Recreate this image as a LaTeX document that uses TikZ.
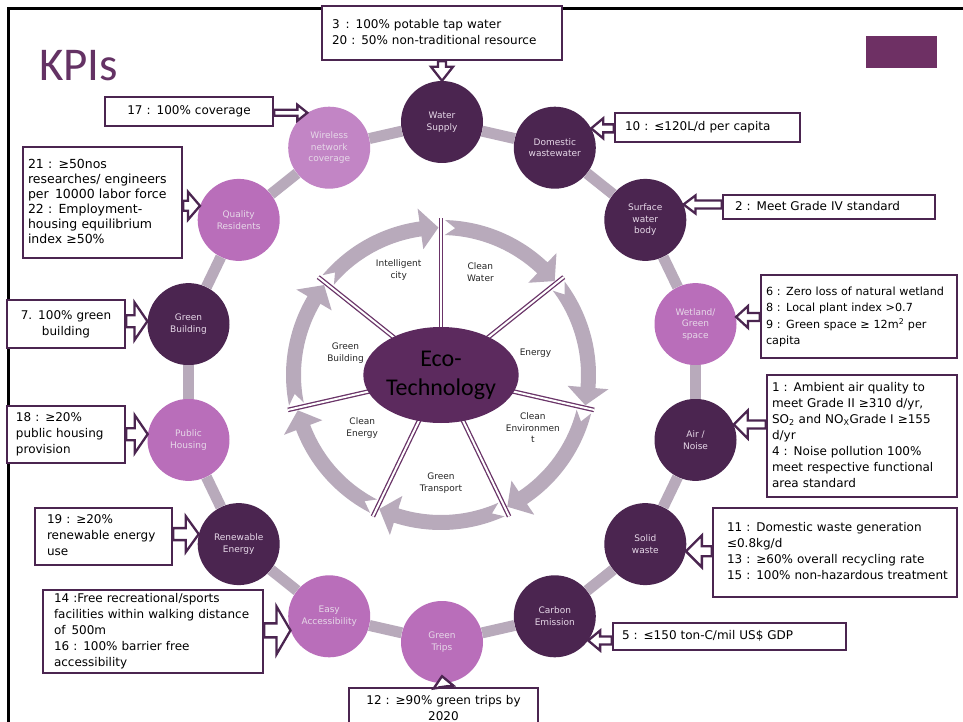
\documentclass[tikz,border=0pt]{standalone}
\usepackage{fontspec}
\setmainfont{DejaVu Sans}
\newfontfamily\calfont{Carlito}
\usetikzlibrary{calc,shapes.geometric}

\definecolor{kdark}{HTML}{4B2550}
\definecolor{klight}{HTML}{B96EBA}
\definecolor{kwire}{HTML}{C285C5}
\definecolor{kgrey}{HTML}{B8AABB}
\definecolor{ktitle}{HTML}{643264}
\definecolor{ktag}{HTML}{6E3064}
\definecolor{keco}{HTML}{5C2A5E}
\definecolor{kspoke}{HTML}{6A3468}
\definecolor{ctext}{HTML}{E6D8E8}

\newcommand\kbtext[1]{\begin{tabular}{@{}l@{}}#1\end{tabular}}
\newcommand\kctext[1]{\begin{tabular}{@{}c@{}}#1\end{tabular}}

% hollow block arrow: #1 start, #2 end, #3 shaft half width, #4 head half width, #5 head length
\newcommand\blockarr[5]{%
  \path let \p1=#1, \p2=#2 in
    \pgfextra{\pgfmathsetmacro\kang{atan2(\y2-\y1,\x2-\x1)}%
      \pgfmathsetmacro\klen{veclen(\x2-\x1,\y2-\y1)}%
      \xdef\kax{\x1}\xdef\kay{\y1}\xdef\kang{\kang}\xdef\klen{\klen}};
  \begin{scope}[shift={(\kax,\kay)}, rotate=\kang]
    \draw[arrowsty] (0pt,-#3pt) -- ({\klen pt-#5pt},-#3pt) -- ({\klen pt-#5pt},-#4pt)
      -- (\klen pt,0pt) -- ({\klen pt-#5pt},#4pt) -- ({\klen pt-#5pt},#3pt) -- (0pt,#3pt) -- cycle;
  \end{scope}}

\begin{document}
\begin{tikzpicture}[x=1pt,y=-1pt,
  dcirc/.style={circle, fill=kdark, minimum size=82pt, inner sep=0pt, text=ctext,
    align=center, font=\fontsize{9}{11.5}\selectfont},
  lcirc/.style={dcirc, fill=klight},
  kbox/.style={draw=kdark, line width=2.5pt, fill=white, inner ysep=0pt,
    align=left, font=\fontsize{12}{16}\selectfont},
  ringconn/.style={draw=kgrey, line width=11pt},
  arrowsty/.style={draw=kdark, fill=white, line width=2.3pt, line join=miter},
  spoke/.style={draw=kspoke, line width=1.3pt, double=white, double distance=2pt},
  wlab/.style={inner sep=0pt, align=center, text=black!85, font=\fontsize{9}{11.5}\selectfont},
  ecost/.style={ellipse, fill=keco, minimum width=114pt, minimum height=96pt, inner sep=0pt,
    align=center, text=black, font=\calfont\fontsize{24}{29}\selectfont}
]
\useasboundingbox (0,0) rectangle (963,722);
\fill[white] (0,0) rectangle (963,722);

% frame
\draw[line width=3pt] (8.5,722) -- (8.5,8.5) -- (963,8.5);

% title and tag
\node[anchor=base west, text=ktitle, font=\calfont\fontsize{47}{50}\selectfont, inner sep=0pt] (title) at (39,81) {KPIs};
\node[fill=ktag, minimum width=71pt, minimum height=32pt, inner sep=0pt] (tag) at (901.5,52) {};

% ---------- inner wheel ----------
\coordinate (wc) at (441,375);
\begin{scope}[shift={(wc)}, x=1pt, y=1pt]
  \foreach \kk in {0,...,6}{
    \pgfmathsetmacro\segA{90-\kk*360/7-1.5}
    \pgfmathsetmacro\segB{90-(\kk+1)*360/7+1}
    \pgfmathsetmacro\segH{\segB+7}
    \pgfmathsetmacro\segN{\segA-4}
    \fill[kgrey] (\segA:155) arc[start angle=\segA, end angle=\segH, radius=155]
      -- (\segH:168) -- (\segB:147.5) -- (\segH:127) -- (\segH:140)
      arc[start angle=\segH, end angle=\segA, radius=140] -- (\segN:147.5) -- cycle;
  }
  \foreach \kk in {0,...,6}{
    \pgfmathsetmacro\spa{90-\kk*360/7}
    \draw[spoke] (\spa:45) -- (\spa:157);
  }
  \node[wlab] (w1) at (69:110) {Clean\\Water};
  \node[wlab] (w2) at (13:97) {Energy};
  \node[wlab] (w3) at (-30:106) {Clean\\Environmen\\t};
  \node[wlab] (w4) at (-90:108) {Green\\Transport};
  \node[wlab] (w5) at (-146:95) {Clean\\Energy};
  \node[wlab] (w6) at (167:98) {Green\\Building};
  \node[wlab] (w7) at (112:113) {Intelligent\\city};
\end{scope}
\node[ecost] (eco) at (wc) {Eco-\\Technology};

% ---------- outer ring of circles ----------
\node[dcirc] (water) at (442,122) {Water\\Supply};
\node[dcirc] (dom) at (554.8,147.7) {Domestic\\wastewater};
\node[dcirc] (surf) at (645.3,219.9) {Surface\\water\\body};
\node[lcirc] (wet) at (695.5,324.1) {Wetland/\\Green\\space};
\node[dcirc] (air) at (695.5,439.9) {Air /\\Noise};
\node[dcirc] (solid) at (645.3,544.1) {Solid\\waste};
\node[dcirc] (carbon) at (554.8,616.3) {Carbon\\Emission};
\node[lcirc] (trips) at (442,642) {Green\\Trips};
\node[lcirc] (easy) at (329.2,616.3) {Easy\\Accessibility};
\node[dcirc] (renew) at (238.7,544.1) {Renewable\\Energy};
\node[lcirc] (pubh) at (188.5,439.9) {Public\\Housing};
\node[dcirc] (greenb) at (188.5,324.1) {Green\\Building};
\node[lcirc] (quality) at (238.7,219.9) {Quality\\Residents};
\node[lcirc, fill=kwire] (wireless) at (329.2,147.7) {Wireless\\network\\coverage};

\foreach \ca/\cb in {water/dom, dom/surf, surf/wet, wet/air, air/solid, solid/carbon,
  carbon/trips, trips/easy, easy/renew, renew/pubh, pubh/greenb, greenb/quality,
  quality/wireless, wireless/water}
  \draw[ringconn] (\ca) -- (\cb);

% ---------- KPI boxes ----------
\node[kbox, text width=220pt, inner xsep=10pt, minimum height=54pt] (boxA) at (442,33)
  {\kbtext{3\enspace: 100\% potable tap water\\20 : 50\% non-traditional resource}};
\node[kbox, text width=148pt, inner xsep=10pt, minimum height=29pt, align=center] (boxB) at (189,111.5)
  {\kctext{17 : 100\% coverage}};
\node[kbox, text width=165pt, inner xsep=10pt, minimum height=29pt] (boxC) at (707.5,127.5)
  {\kbtext{10 :\enspace ≤120L/d per capita}};
\node[kbox, text width=188pt, inner xsep=12pt, minimum height=24pt] (boxD) at (829,207)
  {\kbtext{2 : Meet Grade IV standard}};
\node[kbox, text width=186pt, inner xsep=5pt, minimum height=83pt, font=\fontsize{11.2}{16.5}\selectfont] (boxE) at (859,316.5)
  {\kbtext{6 : Zero loss of natural wetland\\8 :\enspace Local plant index >0.7\\9 :\enspace Green space ≥ 12m\textsuperscript{2} per\\capita}};
\node[kbox, text width=180pt, inner xsep=5pt, minimum height=122pt] (boxF) at (862,436)
  {\kbtext{1 :\enspace Ambient air quality to\\meet Grade II ≥310 d/yr,\\SO\textsubscript{2} and NO\textsubscript{X}Grade I ≥155\\d/yr\\4 :\enspace Noise pollution 100\%\\meet respective functional\\area standard}};
\node[kbox, text width=216pt, inner xsep=14pt, minimum height=89pt] (boxG) at (835,552.5)
  {\kbtext{11 :\enspace Domestic waste generation\\≤0.8kg/d\\13 : ≥60\% overall recycling rate\\15 : 100\% non-hazardous treatment}};
\node[kbox, text width=215pt, inner xsep=9pt, minimum height=27pt] (boxH) at (729.5,636.5)
  {\kbtext{5 : ≤150 ton-C/mil US\$ GDP}};
\node[kbox, text width=171pt, inner xsep=9pt, minimum height=42pt, align=center] (boxI) at (443.5,709)
  {\kctext{12 :\enspace ≥90\% green trips by\\2020}};
\node[kbox, text width=198pt, inner xsep=11pt, minimum height=83pt] (boxJ) at (153,631.5)
  {\kbtext{14 :Free recreational/sports\\facilities within walking distance\\of\enspace 500m\\16 : 100\% barrier free\\accessibility}};
\node[kbox, text width=113pt, inner xsep=12pt, minimum height=57pt] (boxK) at (103.5,536.5)
  {\kbtext{19 : ≥20\%\\renewable energy\\use}};
\node[kbox, text width=100pt, inner xsep=9pt, minimum height=57pt] (boxL) at (66,434.5)
  {\kbtext{18 : ≥20\%\\public housing\\provision}};
\node[kbox, text width=100pt, inner xsep=9pt, minimum height=48pt, align=center] (boxM) at (66,324)
  {\kctext{7.\enspace 100\% green\\building}};
\node[kbox, text width=149pt, inner xsep=5pt, minimum height=111pt, font=\fontsize{12.5}{15}\selectfont] (boxN) at (102.5,202.5)
  {\kbtext{21 : ≥50nos\\researches/ engineers\\per\enspace 10000 labor force\\22 : Employment-\\housing equilibrium\\index ≥50\%}};

% ---------- block arrows ----------
\coordinate (tripsin) at ($(trips.south)+(0,-7)$);
\blockarr{(boxA.south)}{(water.north)}{4}{11}{14}
\blockarr{(boxB.east |- wireless.122)}{(wireless.122)}{3}{8}{10}
\blockarr{(boxC.west |- dom.28)}{(dom.28)}{4}{10}{12}
\blockarr{(boxD.west |- surf.22)}{(surf.22)}{4}{9}{12}
\blockarr{(boxE.west |- wet.10)}{(wet.10)}{4}{11}{12}
\blockarr{(boxF.west |- air.22)}{(air.22)}{4}{14}{14}
\blockarr{(boxG.west |- solid.-10)}{(solid.-10)}{5}{16}{16}
\blockarr{(boxH.west |- carbon.-36)}{(carbon.-36)}{4}{10}{12}
\blockarr{(boxI.north)}{(tripsin)}{4}{10}{11}
\blockarr{(boxJ.east |- easy.200)}{(easy.200)}{7}{24}{14}
\blockarr{(boxK.east |- renew.166)}{(renew.166)}{6}{18}{13}
\blockarr{(boxL.east |- pubh.172)}{(pubh.172)}{6}{19}{13}
\blockarr{(boxM.east |- greenb.176)}{(greenb.176)}{6}{19}{13}
\blockarr{(boxN.east |- quality.160)}{(quality.160)}{5}{14}{12}
\end{tikzpicture}
\end{document}
